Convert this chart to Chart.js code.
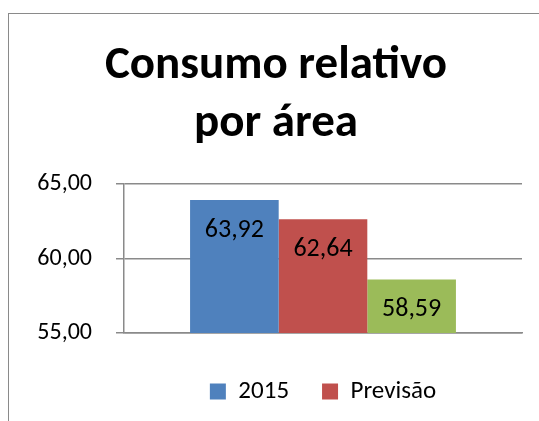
<!DOCTYPE html>
<html lang="pt">
<head>
  <meta charset="UTF-8">
  <title>Consumo relativo por área</title>
  <style>
    body {
      margin: 0;
      overflow: hidden;
      background: #fff;
    }
    #wrap {
      position: relative;
      width: 539px;
      height: 421px;
      overflow: hidden;
    }
    #frame {
      position: absolute;
      left: 8px;
      top: 13px;
      width: 600px;
      height: 500px;
      border-left: 1.5px solid #8a8a8a;
      border-top: 1.5px solid #8a8a8a;
    }
    #chart {
      position: absolute;
      left: 0;
      top: 0;
    }
  </style>
  <script src="https://cdn.jsdelivr.net/npm/chart.js"></script>
</head>
<body>
  <div id="wrap">
    <div id="frame"></div>
    <canvas id="chart" width="539" height="421"></canvas>
  </div>

  <script>
    const categories = ['Consumo relativo'];
    const seriesNames = ['2015', 'Previsão', 'Meta'];
    const values2015 = [63.92];
    const valuesPrevisao = [62.64];
    const valuesMeta = [58.59];
    const yTicks = [55, 60, 65];

    const colors = ['#4f81bd', '#c0504d', '#9bbb59'];
    const fontFamily = "Carlito, 'Open Sans', sans-serif";
    const gridColor = '#8a8a8a';

    const fmt = v => v.toFixed(2).replace('.', ',');

    // labels inside the top of each bar, like Excel "inside end"
    const barLabels = {
      id: 'barLabels',
      afterDatasetsDraw(chart) {
        const ctx = chart.ctx;
        ctx.save();
        ctx.font = '26px ' + fontFamily;
        ctx.fillStyle = '#000';
        ctx.textAlign = 'center';
        ctx.textBaseline = 'middle';
        chart.data.datasets.forEach((ds, i) => {
          chart.getDatasetMeta(i).data.forEach((bar, j) => {
            ctx.fillText(fmt(ds.data[j]), bar.x, bar.y + 30);
          });
        });
        ctx.restore();
      }
    };

    // shrink the legend box so it sits just under the plot
    const legendHeight = {
      id: 'legendHeight',
      beforeInit(chart) {
        const origFit = chart.legend.fit;
        chart.legend.fit = function fit() {
          origFit.bind(chart.legend)();
          this.height = 75;
        };
      }
    };

    const series = [values2015, valuesPrevisao, valuesMeta];

    new Chart(document.getElementById('chart'), {
      type: 'bar',
      data: {
        labels: categories,
        datasets: series.map((vals, i) => ({
          label: seriesNames[i],
          data: vals,
          backgroundColor: colors[i],
          borderWidth: 0,
          categoryPercentage: 0.668,
          barPercentage: 1
        }))
      },
      options: {
        responsive: false,
        animation: false,
        layout: {
          padding: { left: 30, right: 17, top: 0, bottom: 0 }
        },
        plugins: {
          title: {
            display: true,
            text: ['Consumo relativo', 'por área'],
            color: '#000',
            font: { family: fontFamily, size: 47, weight: 'bold', lineHeight: 58 / 47 },
            padding: { top: 37, bottom: 31 }
          },
          legend: {
            position: 'bottom',
            fullSize: false,
            labels: {
              color: '#000',
              font: { family: fontFamily, size: 25 },
              boxWidth: 16,
              boxHeight: 16,
              padding: 33,
              filter: item => item.datasetIndex < 2
            }
          },
          tooltip: { enabled: false }
        },
        scales: {
          x: {
            ticks: { display: false },
            grid: { display: false },
            border: { display: true, color: gridColor, width: 1.5 },
            afterFit(scale) { scale.height = 13; }
          },
          y: {
            min: yTicks[0],
            max: yTicks[yTicks.length - 1],
            afterBuildTicks(scale) {
              scale.ticks = yTicks.map(v => ({ value: v }));
            },
            ticks: {
              color: '#000',
              font: { family: fontFamily, size: 24 },
              padding: 24,
              callback: v => fmt(v)
            },
            grid: { color: gridColor, lineWidth: 1.5, tickLength: 8 },
            border: { color: gridColor, width: 1.5 },
            afterFit(scale) { scale.width = 94; }
          }
        }
      },
      plugins: [barLabels, legendHeight]
    });
  </script>
</body>
</html>
